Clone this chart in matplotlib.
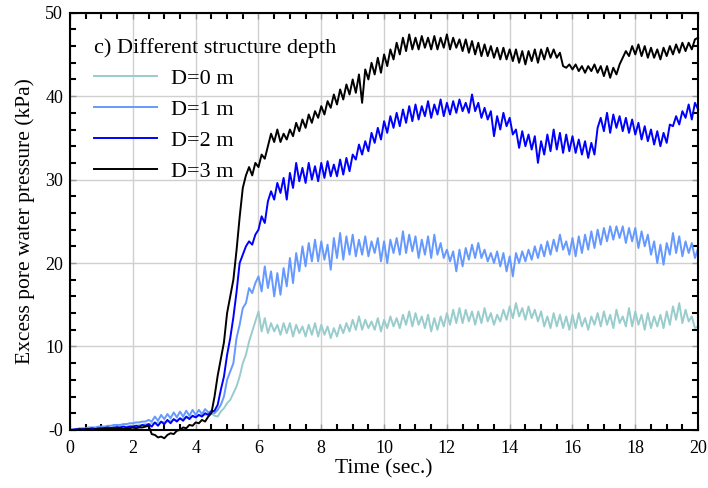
import numpy as np
import matplotlib
matplotlib.use("Agg")
import matplotlib.pyplot as plt
from matplotlib.ticker import MultipleLocator

plt.rcParams['font.family'] = ['Liberation Serif', 'DejaVu Serif']

# time axis, one sample every 0.1 s
time = np.arange(201) / 10.0

# excess pore water pressure (kPa)
d0 = [0.0, 0.0, 0.0, 0.1, 0.1, 0.1, 0.1, 0.1, 0.2, 0.2,
      0.2, 0.2, 0.3, 0.3, 0.3, 0.3, 0.4, 0.4, 0.4, 0.5,
      0.5, 0.5, 0.6, 0.6, 0.7, 0.7, 0.8, 0.8, 0.9, 0.9,
      1.0, 1.0, 1.1, 1.2, 1.2, 1.3, 1.4, 1.4, 1.5, 1.6,
      1.6, 1.7, 1.8, 1.8, 1.9, 2.0, 1.7, 1.6, 2.2, 2.6,
      3.2, 3.6, 4.4, 5.2, 6.4, 8.0, 9.0, 10.6, 11.8, 13.0,
      14.2, 11.8, 13.4, 11.6, 12.8, 11.8, 12.6, 11.4, 12.8, 11.6,
      12.8, 11.2, 12.6, 11.6, 12.4, 11.2, 12.6, 11.4, 12.8, 11.2,
      12.6, 11.4, 12.4, 11.0, 12.2, 11.2, 12.6, 11.6, 12.8, 11.8,
      13.2, 12.0, 13.6, 12.0, 13.2, 12.2, 13.0, 12.0, 13.4, 11.8,
      13.2, 12.2, 13.6, 12.4, 13.4, 12.2, 13.8, 12.6, 14.2, 12.4,
      14.0, 12.6, 13.6, 12.2, 13.8, 11.8, 13.4, 12.0, 13.6, 12.4,
      14.0, 12.6, 14.4, 12.8, 14.6, 12.8, 14.4, 13.0, 14.2, 12.6,
      14.2, 12.8, 14.6, 13.0, 14.0, 12.6, 13.8, 13.0, 14.4, 13.2,
      14.8, 13.4, 15.2, 13.6, 14.6, 13.2, 14.8, 13.4, 14.4, 13.0,
      14.2, 12.4, 13.6, 12.2, 14.0, 12.4, 13.8, 12.2, 13.6, 12.0,
      13.8, 12.2, 14.0, 12.4, 13.4, 12.0, 13.6, 12.6, 14.0, 12.4,
      14.2, 12.6, 13.8, 12.2, 14.4, 12.8, 13.6, 12.4, 14.6, 12.4,
      14.2, 12.6, 13.8, 12.0, 14.0, 12.2, 13.6, 12.4, 13.8, 12.2,
      14.2, 12.6, 14.8, 13.2, 15.2, 12.8, 14.4, 13.0, 13.6, 12.2,
      12.4]

d1 = [0.0, 0.1, 0.1, 0.2, 0.2, 0.2, 0.3, 0.3, 0.3, 0.4,
      0.4, 0.4, 0.5, 0.5, 0.6, 0.6, 0.6, 0.7, 0.7, 0.8,
      0.8, 0.9, 0.9, 1.0, 1.0, 1.2, 1.0, 1.6, 1.1, 1.8,
      1.3, 1.9, 1.4, 2.1, 1.5, 2.2, 1.6, 2.3, 1.7, 2.4,
      1.8, 2.4, 1.9, 2.5, 2.1, 2.3, 2.0, 2.4, 3.0, 4.0,
      6.0, 7.0, 8.0, 11.0, 12.6, 14.6, 15.2, 17.0, 16.4, 17.6,
      18.4, 16.6, 19.6, 17.0, 19.0, 16.0, 18.8, 16.2, 19.4, 17.2,
      20.6, 17.6, 21.2, 19.0, 22.0, 19.6, 22.4, 20.2, 22.8, 20.2,
      22.6, 20.4, 22.2, 19.2, 23.0, 20.6, 23.6, 20.4, 23.2, 21.0,
      23.4, 20.8, 22.8, 21.0, 23.2, 20.8, 22.6, 21.2, 23.0, 20.2,
      22.6, 20.0, 22.8, 21.2, 23.0, 21.0, 23.8, 21.2, 23.4, 21.4,
      23.2, 20.6, 22.8, 21.0, 23.2, 20.6, 23.4, 21.0, 22.4, 20.6,
      21.6, 20.2, 21.4, 19.0, 21.6, 19.6, 21.8, 20.4, 22.2, 20.6,
      22.4, 20.6, 21.6, 20.2, 21.2, 20.0, 21.4, 19.6, 21.2, 19.0,
      20.8, 18.4, 21.2, 20.0, 21.4, 20.2, 21.6, 20.4, 22.0, 20.6,
      22.2, 20.8, 22.6, 21.0, 22.8, 21.4, 23.4, 21.6, 22.6, 21.0,
      23.0, 20.8, 23.2, 21.2, 23.4, 21.6, 23.8, 21.8, 24.0, 22.2,
      24.2, 22.6, 24.4, 22.8, 24.4, 23.0, 24.4, 22.4, 24.2, 22.6,
      24.2, 21.8, 23.8, 22.0, 23.4, 21.0, 22.6, 20.0, 22.2, 19.8,
      22.4, 21.0, 23.6, 21.2, 23.2, 20.8, 22.6, 21.2, 22.4, 20.6,
      21.8]

d2 = [0.0, 0.0, 0.1, 0.0, 0.1, 0.1, 0.1, 0.2, 0.1, 0.2,
      0.2, 0.2, 0.3, 0.2, 0.3, 0.3, 0.3, 0.4, 0.3, 0.4,
      0.4, 0.5, 0.4, 0.6, 0.5, 0.7, 0.4, 0.9, 0.5, 1.0,
      0.7, 1.2, 0.8, 1.3, 1.0, 1.4, 1.1, 1.6, 1.3, 1.7,
      1.5, 1.8, 1.6, 2.0, 1.8, 2.2, 2.3, 3.0, 4.8, 6.4,
      9.0, 11.0, 13.5, 16.5, 20.0, 21.0, 22.0, 22.6, 22.2, 23.4,
      24.0, 25.6, 24.8, 27.4, 28.6, 27.6, 29.6, 28.4, 30.2, 27.6,
      30.8, 29.0, 32.0, 29.8, 31.4, 29.6, 32.0, 30.0, 31.6, 29.8,
      32.0, 30.2, 32.2, 30.4, 31.8, 30.4, 32.4, 30.6, 32.6, 31.0,
      33.0, 32.4, 34.2, 33.0, 34.6, 33.4, 35.6, 34.4, 36.2, 34.8,
      37.0, 35.6, 37.6, 36.2, 38.0, 36.4, 38.4, 36.8, 38.8, 37.0,
      39.0, 37.2, 38.8, 37.6, 39.4, 37.4, 39.0, 37.8, 39.6, 37.6,
      39.2, 37.8, 39.4, 38.0, 39.6, 38.2, 39.2, 38.0, 40.2, 38.2,
      39.2, 37.4, 38.6, 37.2, 38.2, 35.2, 37.6, 36.0, 38.0, 36.4,
      37.4, 35.4, 36.0, 33.8, 35.8, 34.0, 35.4, 33.6, 35.2, 32.0,
      34.6, 33.0, 35.4, 33.4, 36.0, 33.6, 35.6, 33.2, 35.4, 33.4,
      35.2, 33.2, 34.8, 33.0, 34.6, 32.6, 34.4, 33.0, 36.2, 37.4,
      35.8, 38.0, 35.6, 37.8, 36.2, 37.6, 35.8, 37.4, 35.6, 37.2,
      35.4, 36.8, 34.8, 36.4, 34.6, 36.0, 34.2, 35.8, 34.0, 35.6,
      34.4, 36.6, 36.4, 37.6, 36.6, 38.2, 37.4, 39.0, 37.2, 39.2,
      38.4]

d3 = [0.0, 0.0, 0.0, 0.1, 0.0, 0.1, 0.1, 0.0, 0.1, 0.1,
      0.1, 0.2, 0.1, 0.2, 0.1, 0.2, 0.2, 0.1, 0.2, 0.2,
      0.3, 0.2, 0.3, 0.3, 0.4, 0.5, -0.5, -0.6, -0.9, -0.8,
      -1.0, -0.6, -0.4, -0.5, -0.1, 0.0, 0.3, 0.2, 0.6, 0.5,
      0.9, 0.8, 1.2, 1.0, 1.6, 2.0, 4.0, 6.5, 8.5, 10.5,
      14.0, 16.0, 18.0, 21.5, 25.5, 29.0, 30.5, 31.5, 30.5, 32.0,
      31.5, 33.0, 32.5, 34.0, 35.5, 34.5, 36.0, 34.5, 35.5, 34.8,
      36.0, 35.2, 36.8, 35.8, 37.2, 36.2, 37.8, 36.8, 38.2, 37.4,
      38.8, 37.8, 39.4, 38.6, 40.2, 39.0, 40.8, 39.6, 41.4, 40.2,
      42.0, 40.4, 42.6, 39.2, 43.2, 42.0, 44.0, 42.6, 44.6, 42.8,
      45.0, 43.6, 45.6, 44.4, 46.4, 45.0, 47.0, 45.4, 47.4, 45.6,
      47.0, 45.6, 47.2, 45.8, 47.0, 45.6, 47.2, 45.6, 47.0, 45.8,
      47.4, 45.6, 47.0, 45.8, 46.8, 45.4, 46.8, 45.2, 46.6, 45.0,
      46.4, 44.8, 46.2, 44.8, 46.0, 44.6, 45.8, 44.4, 45.8, 44.4,
      45.6, 44.2, 45.6, 44.0, 45.4, 43.8, 45.4, 44.2, 45.6, 44.0,
      45.6, 44.4, 45.8, 44.6, 45.6, 44.6, 45.2, 43.6, 43.4, 43.8,
      43.2, 43.8, 43.0, 43.6, 42.8, 43.6, 43.0, 43.8, 42.8, 43.6,
      42.4, 43.6, 42.2, 43.4, 42.6, 43.8, 44.6, 45.4, 44.8, 46.0,
      45.0, 46.2, 44.8, 46.0, 44.6, 45.8, 44.6, 45.6, 44.4, 45.8,
      44.8, 46.0, 45.0, 46.2, 45.2, 46.4, 45.4, 46.4, 45.6, 46.8,
      47.0]

labels = ['D=0 m', 'D=1 m', 'D=2 m', 'D=3 m']
colors = ['#99cccc', '#6699ff', '#0000ff', '#000000']
yticks = [0, 10, 20, 30, 40, 50]
ytick_labels = ['-0', '10', '20', '30', '40', '50']

fig = plt.figure(figsize=(7.08, 4.88), dpi=100)
ax = fig.add_axes([0.099, 0.119, 0.887, 0.855])

for series, lab, col in zip([d0, d1, d2, d3], labels, colors):
    ax.plot(time, series, color=col, lw=1.4, label=lab, clip_on=False)

ax.set_xlim(0, 20)
ax.set_ylim(0, 50)
ax.xaxis.set_major_locator(MultipleLocator(2))
ax.xaxis.set_minor_locator(MultipleLocator(0.5))
ax.set_yticks(yticks)
ax.set_yticklabels(ytick_labels)
ax.yaxis.set_minor_locator(MultipleLocator(2))
ax.grid(True, which='major', color='#d0d0d0', lw=1)
ax.set_axisbelow(True)

ax.tick_params(which='both', direction='in', top=True, right=True,
               labelsize=13, color='black')
ax.tick_params(which='major', length=4, width=1, color='#999999')
ax.tick_params(which='minor', length=4, width=1.5)
ax.tick_params(axis='x', which='major', pad=7)
ax.tick_params(axis='y', which='major', pad=5)
for sp in ax.spines.values():
    sp.set_linewidth(1.5)

ax.set_xlabel('Time (sec.)', fontsize=15.5, labelpad=2)
ax.set_ylabel('Excess pore water pressure (kPa)', fontsize=15.5, labelpad=7)

leg = ax.legend(title='c) Different structure depth', loc='upper left',
                frameon=False, fontsize=16, title_fontsize=16,
                handlelength=2.85, handletextpad=0.6, labelspacing=0.47,
                alignment='left', bbox_to_anchor=(0.006, 0.988))

fig.savefig('out.png', dpi=100)
